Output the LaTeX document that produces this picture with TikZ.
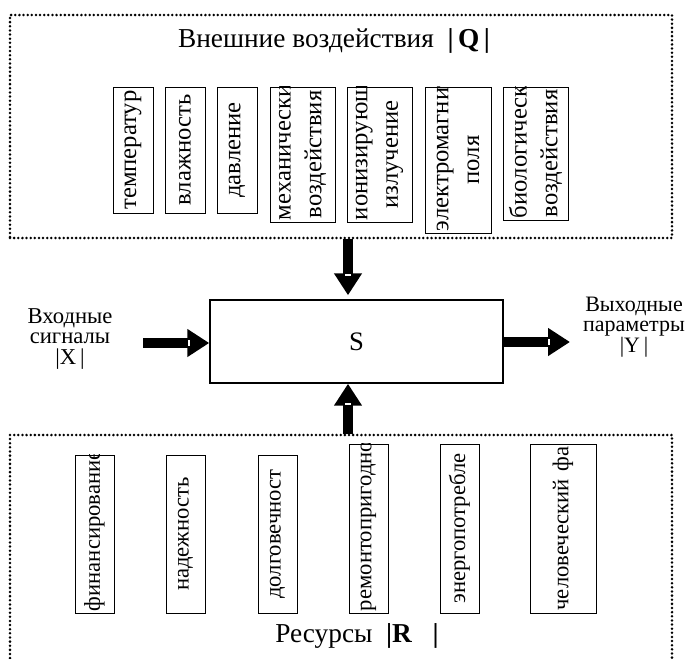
\documentclass[tikz,border=0pt]{standalone}
\usepackage{fontspec}
\setmainfont{Liberation Serif}
\usetikzlibrary{arrows.meta,calc}

\tikzset{
  frame/.style={draw, line width=2.1pt, dash pattern=on 0pt off 3.1pt, line cap=round, inner sep=0pt},
  factor/.style={draw, line width=0.6pt, rotate=90, inner sep=0pt},
  factortext/.style={rotate=90, inner sep=0pt, align=center, font=\fontsize{17}{22}\selectfont},
  bigtext/.style={font=\fontsize{18.5}{23}\selectfont},
  bigarrow/.style={line width=7pt, -{Triangle[length=16.5pt, width=20pt]}},
  notch/.style={fill=white, inner sep=0pt, minimum width=4.5pt, minimum height=1.5pt},
  caption/.style={align=center, font=\fontsize{17}{15.5}\selectfont},
}

% box with vertical text, text cut at the box edge
\newcommand{\factorbox}[6][]{%
  \node[factor, minimum width=#4pt, minimum height=#5pt] (#2) at (#3) {};
  \pgfmathsetmacro{\fwidth}{#4-3}
  \begin{scope}
    \clip (#2.south west) rectangle (#2.north east);
    \node[factortext, text width=\fwidth pt, #1] at (#2.center) {#6};
  \end{scope}}

\begin{document}
\begin{tikzpicture}[x=0.75pt, y=-0.75pt]
	\useasboundingbox (0,0) rectangle (689,658);
	\clip (0,0) rectangle (689,658);
	% outer frames
	\node[frame, minimum width=496.5pt, minimum height=167.25pt] (ext) at (341,126.5) {};
	\node[frame, minimum width=496.5pt, minimum height=191.25pt] (res) at (341,562.5) {};
	\node[font=\fontsize{20.5}{24}\selectfont] (qtitle) at (334,41) {Внешние воздействия\ \ \textbf{|\,Q\,|}};
	\node[font=\fontsize{20.5}{24}\selectfont] (rtitle) at (357,636) {Ресурсы\ \ \textbf{|R}\ \ \ \textbf{|}};
	% external factors
	\factorbox[bigtext]{temp}{133,150}{94.5}{30}{температур}
	\factorbox[bigtext]{humid}{185,150}{94.5}{30}{влажность}
	\factorbox[bigtext]{press}{237,150}{94.5}{30}{давление}
	\factorbox[bigtext]{mech}{302.5,154.5}{101.25}{48.75}{механически\\воздействия}
	\factorbox[bigtext]{ion}{379.5,154.5}{101.25}{48.75}{ионизирующ\\излучение}
	\factorbox[bigtext]{emf}{458,160}{109.5}{49.5}{электромагнит\\поля}
	\factorbox[bigtext]{bio}{535.5,153.5}{99.75}{48.75}{биологически\\воздействия}
	% resources
	\factorbox{fin}{94.5,534}{118.5}{29.25}{финансирование}
	\factorbox{rel}{185.5,534}{118.5}{29.25}{надежность}
	\factorbox{dur}{277.5,534}{118.5}{29.25}{долговечност}
	\factorbox{rep}{368.5,528.5}{126.75}{29.25}{ремонтопригодно}
	\factorbox{enr}{459.5,528.5}{126.75}{29.25}{энергопотребле}
	\factorbox{hum}{563,528.5}{126.75}{49.5}{человеческий фа}
	% system
	\node[draw, line width=1.1pt, minimum width=219.75pt, minimum height=62.25pt, font=\fontsize{20}{22}\selectfont] (sys) at (356.5,341.5) {S};
	\node[caption] (xin) at (70,339) {Входные\\сигналы\\|X\,|};
	\node[caption, font=\fontsize{16.5}{15.5}\selectfont] (yout) at (634,327) {Выходные\\параметры\\|Y\,|};
	% arrows
	\coordinate (axis) at (348,0);
	\coordinate (xstart) at (143,343);
	\coordinate (yend) at (570,342);
	\draw[bigarrow, shorten >=3pt] (ext.south -| axis) -- (sys.north -| axis);
	\draw[bigarrow] (res.north -| axis) -- (sys.south -| axis);
	\draw[bigarrow] (xstart) -- (sys.west |- xstart);
	\draw[bigarrow] (sys.east |- yend) -- (yend);
	\node[notch] at ($(sys.north -| axis)!18.5pt!(ext.south -| axis)$) {};
	\node[notch] at ($(sys.south -| axis)!15.5pt!(res.north -| axis)$) {};
	\node[notch, rotate=90] at ($(sys.west |- xstart)!15.5pt!(xstart)$) {};
	\node[notch, rotate=90] at ($(yend)!15.5pt!(sys.east |- yend)$) {};
\end{tikzpicture}
\end{document}
